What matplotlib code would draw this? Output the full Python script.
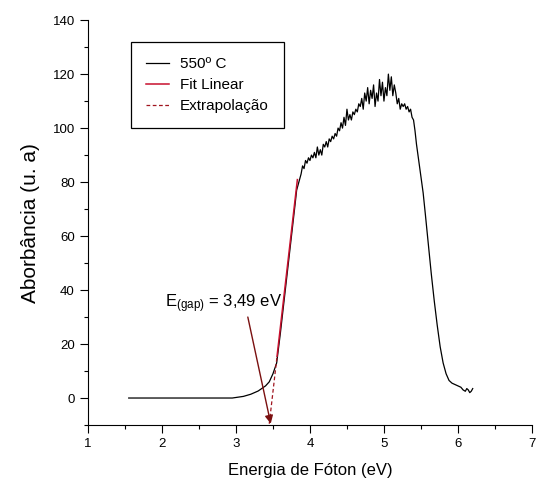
import numpy as np
import matplotlib
matplotlib.use("Agg")
import matplotlib.pyplot as plt

plt.rcParams['font.family'] = ['Liberation Sans', 'DejaVu Sans']

# absorbance spectrum, 550 C sample
edge_x = [1.55, 2.95, 3.0, 3.1, 3.2, 3.3, 3.4, 3.45, 3.5, 3.55, 3.6, 3.65, 3.7, 3.75, 3.8, 3.82]
edge_y = [0.0, 0.0, 0.2, 0.6, 1.4, 2.6, 4.5, 6.0, 9.0, 13.0, 24.0, 36.0, 48.0, 60.0, 72.0, 77.0]

plateau_x = np.round(np.arange(3.84, 5.445, 0.02), 2)
plateau_y = [79, 81, 83, 86, 85, 88, 87, 89, 88, 90, 89, 91, 89, 93, 90, 92, 90, 94, 93, 95,
             93, 96, 95, 97, 96, 98, 97, 100, 99, 102, 100, 104, 101, 107, 103, 105, 103, 106,
             105, 107, 106, 109, 108, 111, 107, 113, 110, 115, 109, 114, 111, 116, 108, 113,
             110, 118, 112, 117, 110, 115, 112, 120, 114, 119, 112, 116, 113, 109, 111, 107,
             109, 108, 109, 107, 108, 106, 107, 104, 103, 99, 94]

fall_x = [5.47, 5.50, 5.53, 5.56, 5.60, 5.64, 5.68, 5.72, 5.76, 5.80, 5.84, 5.88, 5.92, 5.96,
          6.00, 6.04, 6.07, 6.10, 6.12, 6.14, 6.16, 6.18, 6.20]
fall_y = [88, 82, 76, 68, 57, 46, 36, 27, 19, 13, 9, 6.5, 5.5, 5, 4.5, 4, 3, 2.5, 3.5, 3, 2,
          2.5, 3.5]

# linear fit of the absorption edge
e_gap = 3.49
slope = 238.0
fit_x = [3.555, 3.83]
extra_x = [3.45, 3.555]

x = np.concatenate([edge_x, plateau_x, fall_x])
y = np.concatenate([edge_y, plateau_y, fall_y])

fig = plt.figure(figsize=(5.4, 4.91), dpi=100)
ax = fig.add_axes([0.163, 0.1344, 0.822, 0.8246])

ax.plot(x, y, color='black', lw=0.9, label='550º C')
fx = np.array(fit_x)
ax.plot(fx, slope * (fx - e_gap), color='#c8102e', lw=1.1, label='Fit Linear')
ex = np.array(extra_x)
ax.plot(ex, slope * (ex - e_gap), color='#a0141e', lw=0.9, ls=(0, (3, 2)), label='Extrapolação')

ax.text(2.04, 33.5, r'$\mathregular{E_{(gap)}}$ = 3,49 eV', fontsize=12, va='baseline', ha='left')
ax.annotate('', xy=(3.47, -9.5), xytext=(3.16, 30),
            arrowprops=dict(arrowstyle='-|>', color='#7a1010', lw=1.0,
                            mutation_scale=12, shrinkA=0, shrinkB=0))

ax.set_xlim(1, 7)
ax.set_ylim(-10, 140)
ax.set_xticks([1, 2, 3, 4, 5, 6, 7])
ax.set_xticks(np.arange(1.5, 7, 1.0), minor=True)
ax.set_yticks(np.arange(0, 141, 20))
ax.set_yticks(np.arange(-10, 141, 20), minor=True)
ax.tick_params(which='major', direction='out', length=6, width=0.8, labelsize=9.5)
ax.tick_params(which='minor', direction='out', length=3, width=0.8)
ax.spines['top'].set_visible(False)
ax.spines['right'].set_visible(False)

ax.set_xlabel('Energia de Fóton (eV)', fontsize=12, labelpad=9)
ax.set_ylabel('Aborbância (u. a)', fontsize=15, labelpad=9)

leg = ax.legend(loc='upper left', bbox_to_anchor=(0.097, 0.946), borderaxespad=0,
                fontsize=11, fancybox=False, edgecolor='black', framealpha=1,
                handlelength=1.5, handletextpad=0.7, borderpad=1.0, labelspacing=0.45)
leg.get_frame().set_linewidth(0.9)

fig.savefig('out.png', dpi=100)
